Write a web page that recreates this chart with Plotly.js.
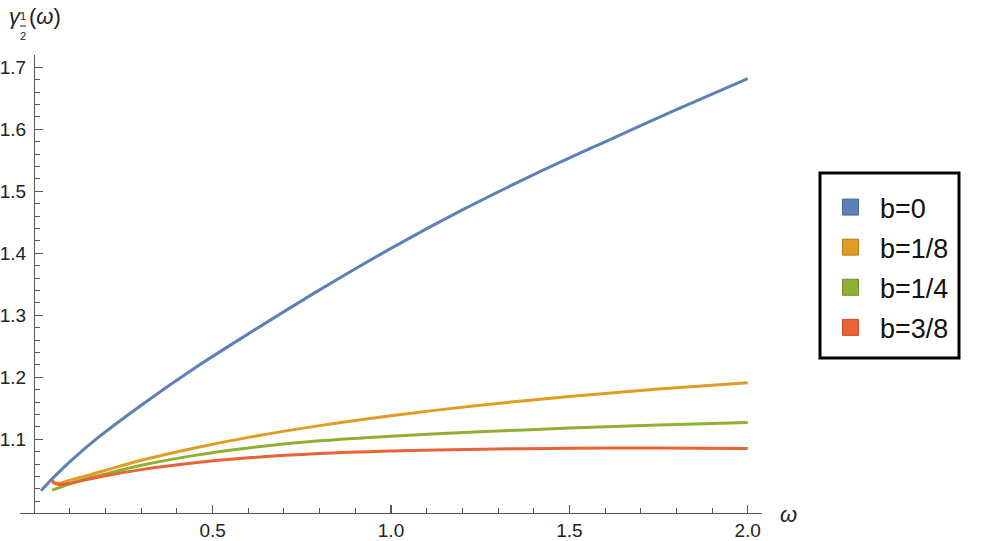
<!DOCTYPE html>
<html>
<head>
<meta charset="utf-8">
<script src="https://cdn.plot.ly/plotly-3.0.1.min.js"></script>
<style>
  html, body { margin: 0; padding: 0; background: #fff; }
  #plot { width: 983px; height: 541px; }
</style>
</head>
<body>
<div id="plot"></div>
<script>
// series (omega, gamma)
let wB0 = [0.019, 0.05, 0.1, 0.175, 0.3, 0.45, 0.6, 0.8, 1.0, 1.2, 1.4, 1.6, 1.8, 2.0];
let gB0 = [1.017, 1.036, 1.064, 1.101, 1.155, 1.215, 1.270, 1.341, 1.408, 1.470, 1.527, 1.580, 1.632, 1.682];

let wB1 = [0.05, 0.07, 0.1, 0.14, 0.2, 0.3, 0.45, 0.6, 0.8, 1.0, 1.25, 1.5, 1.75, 2.0];
let gB1 = [1.030, 1.029, 1.034, 1.040, 1.050, 1.066, 1.086, 1.103, 1.122, 1.138, 1.155, 1.169, 1.181, 1.191];

let wB2 = [0.05, 0.08, 0.1, 0.14, 0.2, 0.3, 0.45, 0.6, 0.8, 1.0, 1.25, 1.5, 1.75, 2.0];
let gB2 = [1.018, 1.024, 1.028, 1.035, 1.044, 1.058, 1.074, 1.086, 1.0975, 1.105, 1.112, 1.118, 1.123, 1.127];

let wB3 = [0.049, 0.058, 0.07, 0.1, 0.14, 0.2, 0.3, 0.45, 0.6, 0.8, 1.0, 1.25, 1.5, 1.75, 2.0];
let gB3 = [1.034, 1.029, 1.027, 1.029, 1.034, 1.041, 1.051, 1.062, 1.070, 1.077, 1.081, 1.084, 1.0855, 1.086, 1.085];

let labels = ['b=0', 'b=1/8', 'b=1/4', 'b=3/8'];
let colors = ['#5e81b5', '#e19c24', '#8fb032', '#eb6235'];
let edges = ['#4a6892', '#b57d1d', '#728d28', '#bc4e2a'];

let xTicks = [0.5, 1.0, 1.5, 2.0];
let xTickText = ['0.5', '1.0', '1.5', '2.0'];
let yTicks = [1.1, 1.2, 1.3, 1.4, 1.5, 1.6, 1.7];
let yTickText = ['1.1', '1.2', '1.3', '1.4', '1.5', '1.6', '1.7'];

// plot area in pixels
let L = 20, R = 762, T = 55, B = 513;
function px(x){ return (x - L) / (R - L); }
function py(y){ return (B - y) / (B - T); }

let fam = 'Liberation Sans, Arial, sans-serif';
let axisCol = '#555';

let ws = [wB0, wB1, wB2, wB3];
let gs = [gB0, gB1, gB2, gB3];
let traces = [];
// curves
for(let i = 0; i < 4; i++){
    traces.push({
        x: ws[i], y: gs[i],
        type: 'scatter', mode: 'lines',
        line: {color: colors[i], width: 3, shape: 'spline', smoothing: 0.8},
        showlegend: false, hoverinfo: 'skip'
    });
}
// square legend swatches
for(let i = 0; i < 4; i++){
    traces.push({
        x: [null], y: [null],
        type: 'scatter', mode: 'markers', name: labels[i],
        legendgroup: 'g' + i,
        marker: {symbol: 'square', size: 16, color: colors[i], line: {color: edges[i], width: 1}}
    });
}

let layout = {
    width: 983, height: 541,
    margin: {l: L, r: 983 - R, t: T, b: 541 - B, pad: 0},
    paper_bgcolor: '#fff', plot_bgcolor: '#fff',
    font: {family: fam, color: '#222'},
    xaxis: {
        range: [-0.04, 2.04],
        showgrid: false, zeroline: false,
        showline: true, linecolor: axisCol, linewidth: 1.2,
        ticks: 'inside', ticklen: 8, tickwidth: 1.2, tickcolor: axisCol,
        tickmode: 'array', tickvals: xTicks, ticktext: xTickText,
        tickfont: {size: 19, family: fam, color: '#222'},
        minor: {tickmode: 'linear', tick0: 0, dtick: 0.1, ticks: 'inside', ticklen: 5, tickwidth: 1, tickcolor: axisCol, showgrid: false}
    },
    yaxis: {
        range: [0.981, 1.72],
        anchor: 'free', position: px(34),
        showgrid: false, zeroline: false,
        showline: true, linecolor: axisCol, linewidth: 1.2,
        ticks: 'inside', ticklen: 8, tickwidth: 1.2, tickcolor: axisCol,
        tickmode: 'array', tickvals: yTicks, ticktext: yTickText,
        ticklabelstandoff: 4,
        tickfont: {size: 19, family: fam, color: '#222'},
        minor: {tickmode: 'linear', tick0: 1.0, dtick: 0.02, ticks: 'inside', ticklen: 5, tickwidth: 1, tickcolor: axisCol, showgrid: false}
    },
    showlegend: true,
    legend: {
        x: px(821), xanchor: 'left', y: py(183), yanchor: 'top',
        bgcolor: 'rgba(0,0,0,0)', borderwidth: 0,
        font: {size: 27, family: fam, color: '#111'},
        itemwidth: 49, traceorder: 'grouped', tracegroupgap: 2
    },
    annotations: [
        // y label: gamma_{1/2}(omega)
        {text: '<i>γ</i>', xref: 'paper', yref: 'paper', x: px(15), y: py(17), xanchor: 'center', yanchor: 'middle', showarrow: false, font: {size: 22, family: fam, color: '#222'}},
        {text: '1', xref: 'paper', yref: 'paper', x: px(23), y: py(16), xanchor: 'center', yanchor: 'middle', showarrow: false, font: {size: 11, family: fam, color: '#222'}},
        {text: '2', xref: 'paper', yref: 'paper', x: px(23), y: py(36), xanchor: 'center', yanchor: 'middle', showarrow: false, font: {size: 11, family: fam, color: '#222'}},
        {text: '(<i>ω</i>)', xref: 'paper', yref: 'paper', x: px(27), y: py(17), xanchor: 'left', yanchor: 'middle', showarrow: false, font: {size: 22, family: fam, color: '#222'}},
        // x label
        {text: '<i>ω</i>', xref: 'paper', yref: 'paper', x: px(788), y: py(514), xanchor: 'center', yanchor: 'middle', showarrow: false, font: {size: 22, family: fam, color: '#222'}}
    ],
    shapes: [
        // fraction bar of the 1/2 subscript
        {type: 'line', xref: 'paper', yref: 'paper', x0: px(20), x1: px(26), y0: py(26), y1: py(26), line: {color: '#222', width: 1}},
        // legend frame
        {type: 'rect', xref: 'paper', yref: 'paper', x0: px(820), x1: px(959), y0: py(173), y1: py(358), line: {color: '#000', width: 3}, fillcolor: 'rgba(0,0,0,0)', layer: 'above'}
    ]
};

Plotly.newPlot('plot', traces, layout, {displayModeBar: false, staticPlot: true});
</script>
</body>
</html>
